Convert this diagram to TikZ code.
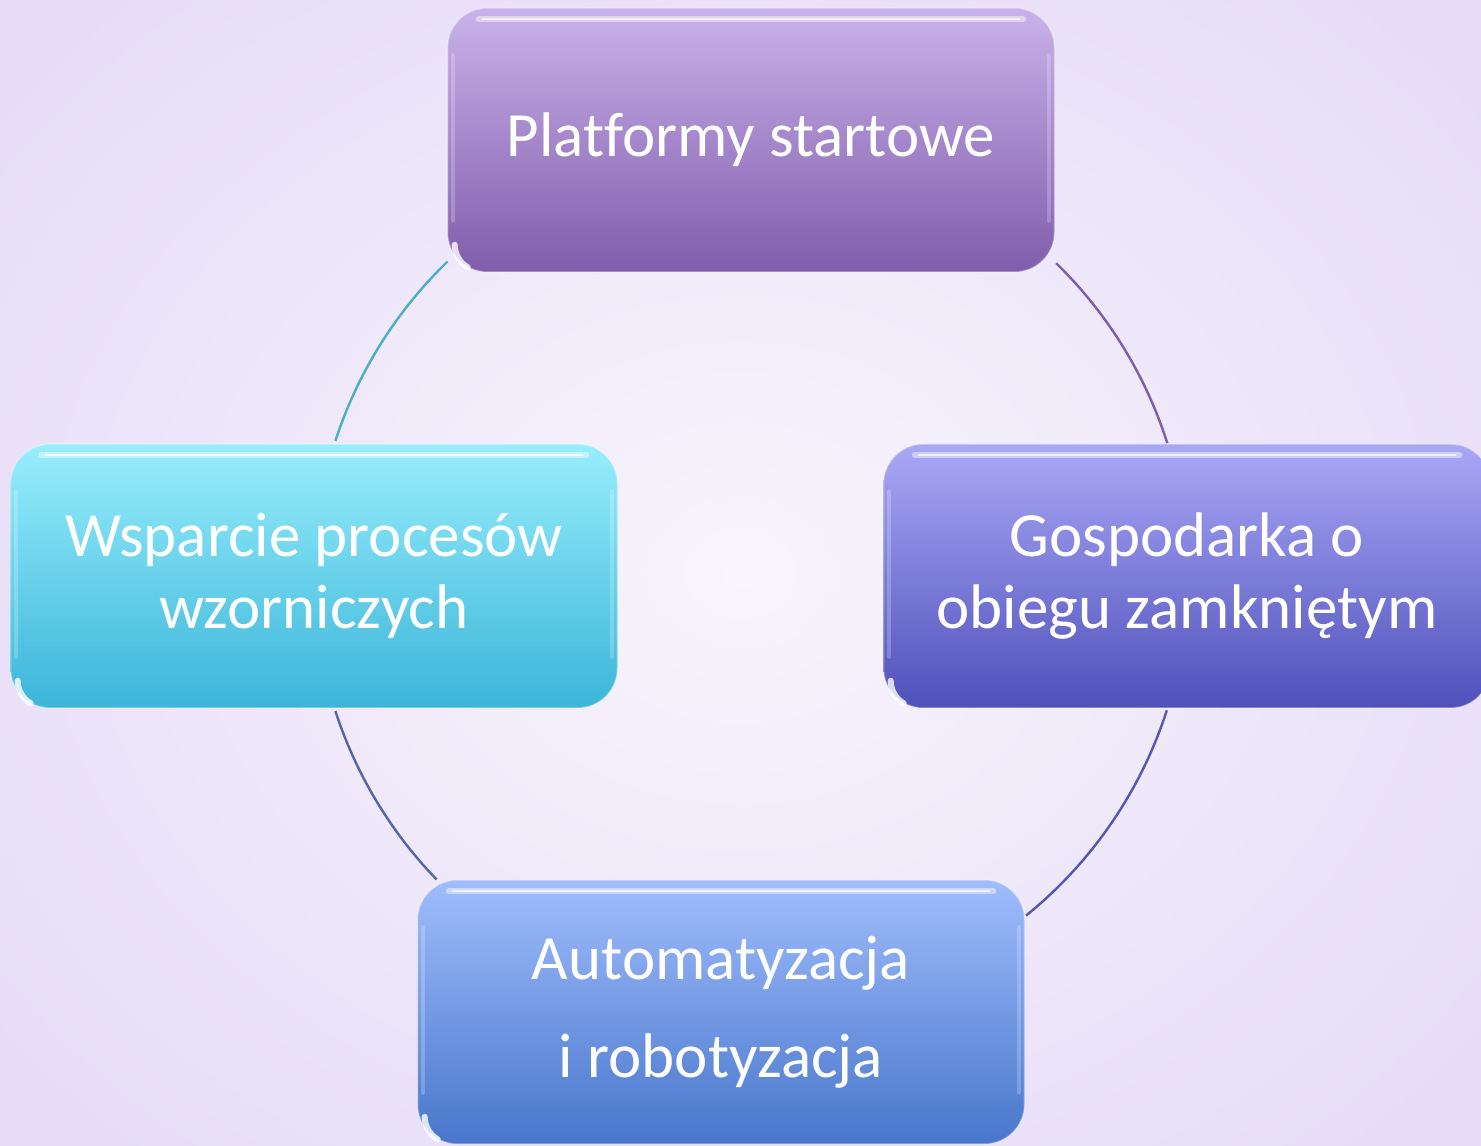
\documentclass[tikz,border=0pt]{standalone}
\usepackage{fontspec}
\setmainfont[Ligatures=NoCommon]{Carlito}
\usetikzlibrary{calc}
\definecolor{bgA}{HTML}{F8F5FC}
\definecolor{bgB}{HTML}{E6DCF8}
\definecolor{pTop}{HTML}{C9B2EB}
\definecolor{pBot}{HTML}{805DAB}
\definecolor{cTop}{HTML}{98EEFC}
\definecolor{cBot}{HTML}{3BB5D9}
\definecolor{vTop}{HTML}{A9A8F6}
\definecolor{vBot}{HTML}{5050BB}
\definecolor{bTop}{HTML}{A0BDFC}
\definecolor{bBot}{HTML}{4876CB}
\definecolor{arcTL}{HTML}{4AAFC6}
\definecolor{arcTR}{HTML}{7C5EAA}
\definecolor{arcBR}{HTML}{5656B8}
\definecolor{arcBL}{HTML}{5566A8}
\tikzset{
  gbox/.style 2 args={draw=white, draw opacity=0.3, line width=0.8pt,
    rounded corners=20pt, minimum width=303.5pt, minimum height=132pt,
    top color=#1, bottom color=#2, text=white, align=center, inner sep=0pt,
    font=\fontsize{31.5}{36}\selectfont},
  ring/.style={line width=1.2pt},
  hl/.style={white, line width=3pt, line cap=round, opacity=0.45},
  hlin/.style={white, line width=1.2pt, line cap=round, opacity=0.7},
  hlc/.style={white, line width=3pt, line cap=round, opacity=0.8},
  sidehl/.style={white, opacity=0.22, line width=2pt, line cap=round},
}
\begin{document}
\begin{tikzpicture}[x=0.5pt,y=0.5pt]
\useasboundingbox (0,0) rectangle (1481,1145);
\clip (0,0) rectangle (1481,1145);
\shade[inner color=bgA, outer color=bgB] (-200,-200) rectangle (1681,1345);
\coordinate (ctr) at (751,569);
% arcs
\draw[ring, arcTL] ($(ctr)+(134:218.5pt)$) arc[start angle=134, end angle=162, radius=218.5pt];
\draw[ring, arcTR] ($(ctr)+(45.7:218.5pt)$) arc[start angle=45.7, end angle=17.7, radius=218.5pt];
\draw[ring, arcBR] ($(ctr)+(-17.9:218.5pt)$) arc[start angle=-17.9, end angle=-51, radius=218.5pt];
\draw[ring, arcBL] ($(ctr)+(198:218.5pt)$) arc[start angle=198, end angle=224, radius=218.5pt];
% boxes
\node[gbox={pTop}{pBot}] (top) at (751,1005) {Platformy startowe};
\node[gbox={cTop}{cBot}] (left) at (314,569) {Wsparcie procesów\\wzorniczych};
\node[gbox={vTop}{vBot}] (right) at (1187,569) {Gospodarka o\\obiegu zamkniętym};
\node[gbox={bTop}{bBot}] (bottom) at (721,133) {Automatyzacja\\[13pt]i robotyzacja};
% glossy highlights
\foreach \n in {top,left,right,bottom}{
  \draw[hl] ([xshift=16pt,yshift=-6pt]\n.north west) -- ([xshift=-16pt,yshift=-6pt]\n.north east);
  \draw[hlin] ([xshift=18pt,yshift=-6pt]\n.north west) -- ([xshift=-18pt,yshift=-6pt]\n.north east);
  \draw[hlc] ([xshift=4pt,yshift=14pt]\n.south west) arc[start angle=180, end angle=240, radius=13pt];
  \draw[sidehl] ([xshift=3pt,yshift=-24pt]\n.north west) -- ([xshift=3pt,yshift=26pt]\n.south west);
  \draw[sidehl] ([xshift=-3pt,yshift=-24pt]\n.north east) -- ([xshift=-3pt,yshift=26pt]\n.south east);
}
\end{tikzpicture}
\end{document}
